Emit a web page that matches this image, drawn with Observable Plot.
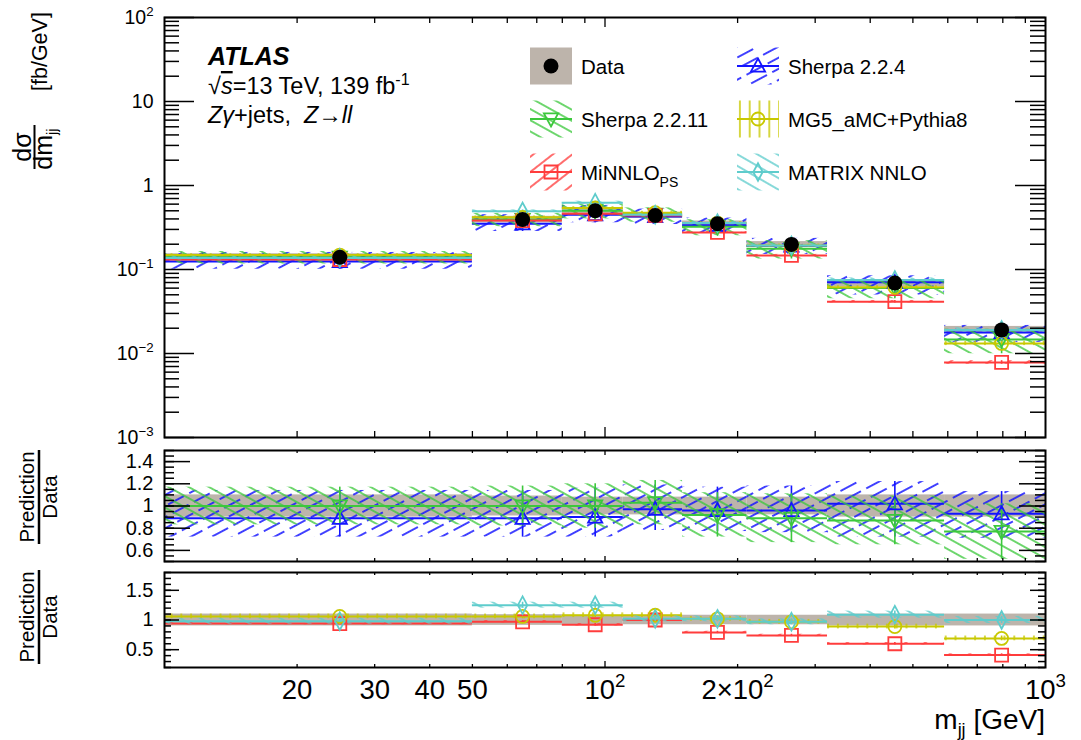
<!DOCTYPE html>
<html><head><meta charset="utf-8">
<script src="https://cdn.jsdelivr.net/npm/d3@7"></script>
<script src="https://cdn.jsdelivr.net/npm/@observablehq/plot@0.6"></script>
<style>
html,body{margin:0;padding:0;background:#fff;}
#wrap{position:relative;width:1081px;height:740px;overflow:hidden;}
#wrap > svg{position:absolute;left:0;margin:0;}
text{white-space:pre;}
</style></head>
<body>
<div id="wrap"></div>
<script>
// ---------------- data ----------------
const X_DOMAIN = [10, 1000];
const binLo = [0, 50, 80, 110, 150, 210, 320, 590];
const binHi = [50, 80, 110, 150, 210, 320, 590, 1000];
const binCenter = [25, 65, 95, 130, 180, 265, 455, 795];
const dataXsec = [0.140, 0.394, 0.50, 0.44, 0.35, 0.199, 0.069, 0.0191];
const dataRelErr = [0.10, 0.09, 0.08, 0.08, 0.08, 0.08, 0.10, 0.10];

const sherpa224Ratio  = [0.89, 0.89, 0.90, 0.97, 0.96, 0.96, 1.02, 0.93];
const sherpa224ErrUp  = [0.25, 0.25, 0.26, 0.22, 0.21, 0.22, 0.20, 0.20];
const sherpa224ErrDn  = [0.17, 0.17, 0.18, 0.19, 0.19, 0.20, 0.30, 0.22];
const sherpa2211Ratio = [1.00, 1.00, 1.00, 1.03, 0.92, 0.89, 0.87, 0.77];
const sherpa2211Err   = [0.17, 0.18, 0.20, 0.20, 0.20, 0.22, 0.22, 0.25];
const minnloRatio = [0.94, 0.97, 0.92, 1.00, 0.79, 0.74, 0.60, 0.41];
const minnloErr   = [0.02, 0.02, 0.02, 0.02, 0.02, 0.02, 0.02, 0.02];
const mg5Ratio = [1.06, 1.06, 1.08, 1.08, 1.02, 0.97, 0.89, 0.69];
const mg5Err   = [0.04, 0.04, 0.04, 0.04, 0.04, 0.04, 0.04, 0.04];
const matrixRatio = [0.98, 1.25, 1.25, 1.02, 1.02, 0.97, 1.09, 1.00];
const matrixErr   = [0.05, 0.05, 0.05, 0.05, 0.05, 0.05, 0.06, 0.06];

const xLabelTicks = [20, 30, 40, 50, 100, 200, 1000];
const xLabelText  = ["20", "30", "40", "50", "10^2", "2×10^2", "10^3"];
const mainYTicks = [1e-3, 1e-2, 1e-1, 1, 10, 100];
const mainYText  = ["10^−3", "10^−2", "10^−1", "1", "10", "10^2"];
const r1YTicks = [0.6, 0.8, 1, 1.2, 1.4];
const r1YText  = ["0.6", "0.8", "1", "1.2", "1.4"];
const r2YTicks = [0.5, 1, 1.5];
const r2YText  = ["0.5", "1", "1.5"];

// ---------------- style ----------------
const FONT = '"Liberation Sans", Arial, Helvetica, sans-serif';
const BAND = "#bdb4ab";
const W = 1081, ML = 164, MR = 36, FW = W - ML - MR;

const symTriUp = {draw(c, s){const r=Math.sqrt(s/Math.PI), h=r*1.15; c.moveTo(0,-h); c.lineTo(h*0.95,h*0.75); c.lineTo(-h*0.95,h*0.75); c.closePath();}};
const symTriDown = {draw(c, s){const r=Math.sqrt(s/Math.PI), h=r*1.15; c.moveTo(0,h); c.lineTo(h*0.95,-h*0.75); c.lineTo(-h*0.95,-h*0.75); c.closePath();}};
const symSquare = {draw(c, s){const r=Math.sqrt(s/Math.PI); c.moveTo(-r,-r); c.lineTo(r,-r); c.lineTo(r,r); c.lineTo(-r,r); c.closePath();}};
const symCircle = {draw(c, s){const r=Math.sqrt(s/Math.PI); c.moveTo(r,0); c.arc(0,0,r,0,2*Math.PI);}};
const symDiamond = {draw(c, s){const r=Math.sqrt(s/Math.PI); c.moveTo(0,-1.35*r); c.lineTo(0.72*r,0); c.lineTo(0,1.35*r); c.lineTo(-0.72*r,0); c.closePath();}};

const SERIES = [
  {name:"Sherpa 2.2.4",  ratio:sherpa224Ratio,  up:sherpa224ErrUp, dn:sherpa224ErrDn, color:"#1414ff", pattern:"hatchBlue",   symbol:symTriUp,   panel:1},
  {name:"Sherpa 2.2.11", ratio:sherpa2211Ratio, up:sherpa2211Err,  dn:sherpa2211Err,  color:"#3cc83c", pattern:"hatchGreen",  symbol:symTriDown, panel:1},
  {name:"MiNNLO",        ratio:minnloRatio,     up:minnloErr,      dn:minnloErr,      color:"#ff3c3c", pattern:"hatchRed",    symbol:symSquare,  panel:2},
  {name:"MG5_aMC+Pythia8", ratio:mg5Ratio,      up:mg5Err,         dn:mg5Err,         color:"#c8c800", pattern:"hatchYellow", symbol:symCircle,  panel:2},
  {name:"MATRIX NNLO",   ratio:matrixRatio,     up:matrixErr,      dn:matrixErr,      color:"#5ecccc", pattern:"hatchCyan",   symbol:symDiamond, panel:2},
];
const HATCH = {
  hatchBlue:   {angle:-28, period:24, gap:9.8, dash:18},
  hatchGreen:  {angle:29,  period:60, gap:9.8, dash:60},
  hatchRed:    {angle:-38, period:60, gap:12,  dash:60},
  hatchYellow: {angle:90,  period:60, gap:9.8, dash:60},
  hatchCyan:   {angle:30,  period:60, gap:10,  dash:60},
};

const NS = "http://www.w3.org/2000/svg";
const wrap = document.getElementById("wrap");

const defsSvg = d3.select(wrap).append("svg").attr("width",0).attr("height",0).style("position","absolute");
const defs = defsSvg.append("defs");
for (const s of SERIES) {
  const h = HATCH[s.pattern];
  const p = defs.append("pattern").attr("id", s.pattern).attr("patternUnits","userSpaceOnUse")
    .attr("width", h.period).attr("height", h.gap).attr("patternTransform", `rotate(${h.angle})`);
  p.append("line").attr("x1",0).attr("x2",h.dash).attr("y1",h.gap/2).attr("y2",h.gap/2)
    .attr("stroke", s.color).attr("stroke-width",1.6);
}

const rowsOf = (s) => binLo.map((lo,i)=>({lo: Math.max(lo, X_DOMAIN[0]), hi: binHi[i], c: binCenter[i],
  data: dataXsec[i], derr: dataRelErr[i], r: s ? s.ratio[i] : 1, up: s ? s.up[i] : 0, dn: s ? s.dn[i] : 0}));
const dataRows = rowsOf(null);

function fixSup(root) {
  root.querySelectorAll("text").forEach(t => {
    const s = t.textContent; const k = s.indexOf("^");
    if (k < 0) return;
    while (t.firstChild) t.removeChild(t.firstChild);
    const a = document.createElementNS(NS,"tspan"); a.textContent = s.slice(0,k);
    const b = document.createElementNS(NS,"tspan"); b.textContent = s.slice(k+1);
    b.setAttribute("font-size","68%"); b.setAttribute("dy","-0.62em");
    t.append(a,b);
  });
}

const xMinor = [20,30,40,50,60,70,80,90,200,300,400,500,600,700,800,900];
const xMajor = [100];
function xTicks(len, lenMajor, fh) {
  return [
    Plot.tickX(xMinor, {x:d=>d, insetTop: fh-len, stroke:"black", strokeWidth:1.3}),
    Plot.tickX(xMinor, {x:d=>d, insetBottom: fh-len, stroke:"black", strokeWidth:1.3}),
    Plot.tickX(xMajor, {x:d=>d, insetTop: fh-lenMajor, stroke:"black", strokeWidth:1.3}),
    Plot.tickX(xMajor, {x:d=>d, insetBottom: fh-lenMajor, stroke:"black", strokeWidth:1.3}),
  ];
}
function yTicks(vals, len) {
  return [
    Plot.tickY(vals, {y:d=>d, insetRight: FW-len, stroke:"black", strokeWidth:1.5}),
    Plot.tickY(vals, {y:d=>d, insetLeft: FW-len, stroke:"black", strokeWidth:1.5}),
  ];
}
function seriesMarks(s, rows, yv, ylo, yhi) {
  return [
    Plot.rect(rows, {x1:"lo", x2:"hi", y1: ylo, y2: yhi, fill:`url(#${s.pattern})`}),
    Plot.ruleY(rows, {x1:"lo", x2:"hi", y: yv, stroke: s.color, strokeWidth: 2}),
    Plot.ruleX(rows, {x:"c", y1: ylo, y2: yhi, stroke: s.color, strokeWidth: 1.6}),
  ];
}
function seriesDots(s, rows, yv) {
  return Plot.dot(rows, {x:"c", y: yv, symbol: s.symbol, r: 6.5, stroke: s.color, fill:"none", strokeWidth: 1.8});
}
const fmtMap = (vals, txt) => { const m = new Map(vals.map((v,i)=>[v, txt[i]])); return d => m.get(d); };

// ---------------- main panel ----------------
const mainH = 460, mainMT = 17, mainMB = 23, mainFH = mainH - mainMT - mainMB;
const mainMinor = [];
for (let e = -3; e < 2; e++) for (let k = 2; k <= 9; k++) mainMinor.push(k * Math.pow(10, e));
const mainMarks = [
  Plot.rect(dataRows, {x1:"lo", x2:"hi", y1: d=>d.data*(1-d.derr), y2: d=>d.data*(1+d.derr), fill: BAND}),
];
for (const s of SERIES) { const rows = rowsOf(s);
  mainMarks.push(...seriesMarks(s, rows, d=>d.data*d.r, d=>d.data*(d.r-d.dn), d=>d.data*(d.r+d.up))); }
for (const s of SERIES) mainMarks.push(seriesDots(s, rowsOf(s), d=>d.data*d.r));
mainMarks.push(Plot.dot(dataRows, {x:"c", y:"data", r:7.5, fill:"black"}));
mainMarks.push(...xTicks(6, 10, mainFH), ...yTicks(mainMinor, 15), ...yTicks(mainYTicks, 30));
mainMarks.push(Plot.axisY(mainYTicks, {anchor:"left", tickSize:0, tickPadding:11, tickFormat: fmtMap(mainYTicks, mainYText), fontSize: 19.5, label:null}));
mainMarks.push(Plot.frame({stroke:"black", strokeWidth:2}));
const mainPlot = Plot.plot({width:W, height:mainH, marginLeft:ML, marginRight:MR, marginTop:mainMT, marginBottom:mainMB,
  x:{type:"log", domain:X_DOMAIN, axis:null}, y:{type:"log", domain:[1e-3,1e2], axis:null},
  style:{fontFamily:FONT, background:"white", color:"black"}, marks: mainMarks});
mainPlot.style.top = "0px";
fixSup(mainPlot); wrap.appendChild(mainPlot);

// ---------------- ratio panels ----------------
function ratioPanel(panel, top, height, mt, mb, ydom, majors, majText, minorStep, majLen, minLen, xLen, xLenMaj, withX) {
  const fh = height - mt - mb;
  const minors = d3.range(Math.round(ydom[0]/minorStep), Math.round(ydom[1]/minorStep)+1).map(k => +(k*minorStep).toFixed(3));
  const marks = [Plot.rect(dataRows, {x1:"lo", x2:"hi", y1: d=>1-d.derr, y2: d=>1+d.derr, fill: BAND})];
  const ss = SERIES.filter(s => s.panel === panel);
  for (const s of ss) marks.push(...seriesMarks(s, rowsOf(s), "r", d=>d.r-d.dn, d=>d.r+d.up));
  for (const s of ss) marks.push(seriesDots(s, rowsOf(s), "r"));
  marks.push(...xTicks(xLen, xLenMaj, fh), ...yTicks(minors, minLen), ...yTicks(majors, majLen));
  marks.push(Plot.axisY(majors, {anchor:"left", tickSize:0, tickPadding:11, tickFormat: fmtMap(majors, majText), fontSize: 20, label:null}));
  if (withX) marks.push(Plot.axisX(xLabelTicks, {anchor:"bottom", tickSize:0, tickPadding:12, tickFormat: fmtMap(xLabelTicks, xLabelText), fontSize: 27.5, label:null}));
  marks.push(Plot.frame({stroke:"black", strokeWidth:2}));
  const p = Plot.plot({width:W, height, marginLeft:ML, marginRight:MR, marginTop:mt, marginBottom:mb,
    x:{type:"log", domain:X_DOMAIN, axis:null}, y:{domain:ydom, axis:null},
    style:{fontFamily:FONT, background:"white", color:"black"}, marks});
  p.style.top = top + "px";
  fixSup(p); wrap.appendChild(p);
}
ratioPanel(1, 444, 124, 6, 7, [0.5, 1.5], r1YTicks, r1YText, 0.05, 26, 10, 3, 5, false);
ratioPanel(2, 566, 174, 6, 73, [0.2, 1.8], r2YTicks, r2YText, 0.1, 15, 7, 3, 6, true);

// ---------------- overlay: labels, legend ----------------
const ov = d3.select(wrap).append("svg").attr("width",W).attr("height",740).style("top","0px")
  .attr("font-family", FONT).style("pointer-events","none");

ov.append("text").attr("x",208).attr("y",65).attr("font-size",25).attr("font-weight","bold").attr("font-style","italic").text("ATLAS");
const t2 = ov.append("text").attr("x",208).attr("y",94).attr("font-size",23.5);
t2.append("tspan").text("√");
t2.append("tspan").attr("font-style","italic").attr("text-decoration","overline").text("s");
t2.append("tspan").text("=13 TeV, 139 fb");
t2.append("tspan").attr("font-size",16).attr("dy",-9).text("-1");
const t3 = ov.append("text").attr("x",208).attr("y",123).attr("font-size",23.5);
t3.append("tspan").attr("font-style","italic").text("Zγ");
t3.append("tspan").text("+jets,  ");
t3.append("tspan").attr("font-style","italic").text("Z");
t3.append("tspan").text("→");
t3.append("tspan").attr("font-style","italic").text("ll");

// y title: dσ/dm_jj [fb/GeV]
const gy = ov.append("g").attr("transform","translate(50,170) rotate(-90)");
gy.append("text").attr("x",23).attr("y",-19).attr("text-anchor","middle").attr("font-size",25).text("dσ");
gy.append("line").attr("x1",1).attr("x2",45).attr("y1",-15.5).attr("y2",-15.5).attr("stroke","black").attr("stroke-width",2);
const den = gy.append("text").attr("x",21).attr("y",2).attr("text-anchor","middle").attr("font-size",25);
den.append("tspan").text("dm"); den.append("tspan").attr("font-size",15).attr("dy",5).text("jj");
gy.append("text").attr("x",79).attr("y",-3).attr("font-size",21.5).text("[fb/GeV]");

for (const cy of [497, 617]) {
  const g = ov.append("g").attr("transform",`translate(57,${cy}) rotate(-90)`).attr("font-size",20.5);
  g.append("text").attr("x",0).attr("y",-23).attr("text-anchor","middle").text("Prediction");
  g.append("line").attr("x1",-47).attr("x2",47).attr("y1",-18).attr("y2",-18).attr("stroke","black").attr("stroke-width",2.5);
  g.append("text").attr("x",0).attr("y",0).attr("text-anchor","middle").text("Data");
}

const xt = ov.append("text").attr("x",1045).attr("y",729).attr("text-anchor","end").attr("font-size",28);
xt.append("tspan").text("m");
xt.append("tspan").attr("font-size",18).attr("dy",7).text("jj");
xt.append("tspan").attr("dy",-7).text(" [GeV]");

function symPath(sym, r){ const p = d3.path(); sym.draw(p, Math.PI*r*r); return p.toString(); }
const LEG = [
  {col:0,row:0,label:"Data", data:true},
  {col:1,row:0,s:SERIES[0], label:"Sherpa 2.2.4"},
  {col:0,row:1,s:SERIES[1], label:"Sherpa 2.2.11"},
  {col:1,row:1,s:SERIES[3], label:"MG5_aMC+Pythia8"},
  {col:0,row:2,s:SERIES[2], label:"MiNNLO", sub:"PS"},
  {col:1,row:2,s:SERIES[4], label:"MATRIX NNLO"},
];
const colX = [530, 737], rowY = [66, 119, 172];
for (const e of LEG) {
  const x0 = colX[e.col], cy = rowY[e.row];
  const g = ov.append("g");
  if (e.data) {
    g.append("rect").attr("x",x0).attr("y",cy-18.5).attr("width",42).attr("height",37).attr("fill",BAND);
    g.append("circle").attr("cx",x0+21).attr("cy",cy).attr("r",7.5).attr("fill","black");
  } else {
    g.append("rect").attr("x",x0).attr("y",cy-18.5).attr("width",42).attr("height",37).attr("fill",`url(#${e.s.pattern})`);
    g.append("line").attr("x1",x0).attr("x2",x0+42).attr("y1",cy).attr("y2",cy).attr("stroke",e.s.color).attr("stroke-width",2);
    g.append("path").attr("transform",`translate(${x0+21},${cy})`).attr("d",symPath(e.s.symbol,6.5)).attr("fill","none").attr("stroke",e.s.color).attr("stroke-width",1.8);
  }
  const t = g.append("text").attr("x",x0+51).attr("y",cy+7.5).attr("font-size",20.5).text(e.label);
  if (e.sub) t.append("tspan").attr("font-size",14).attr("dy",7).text(e.sub);
}
</script>
</body></html>
